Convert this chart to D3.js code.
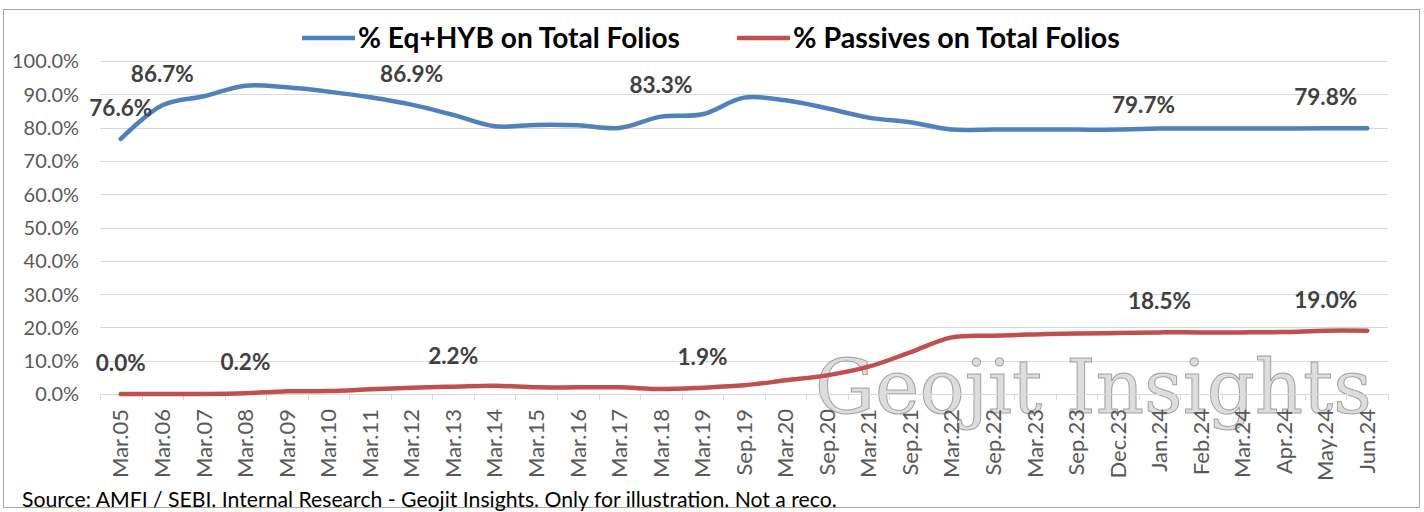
<!DOCTYPE html>
<html>
<head>
<meta charset="utf-8">
<script src="https://cdn.jsdelivr.net/npm/d3@7"></script>
<style>
  html, body { margin: 0; padding: 0; background: #fff; }
  svg { display: block; font-family: Lato, "Open Sans", sans-serif; }
</style>
</head>
<body>
<svg id="chart" width="1424" height="512"></svg>
<script>
const categories = ["Mar.05","Mar.06","Mar.07","Mar.08","Mar.09","Mar.10","Mar.11","Mar.12","Mar.13","Mar.14",
  "Mar.15","Mar.16","Mar.17","Mar.18","Mar.19","Sep.19","Mar.20","Sep.20","Mar.21","Sep.21",
  "Mar.22","Sep.22","Mar.23","Sep.23","Dec.23","Jan.24","Feb.24","Mar.24","Apr.24","May.24","Jun.24"];
const eqHyb = [76.6,86.7,89.4,92.6,92.1,90.8,89.1,86.9,83.8,80.4,
  80.8,80.7,79.9,83.3,84.0,89.0,88.2,85.8,83.0,81.6,
  79.4,79.4,79.4,79.4,79.4,79.7,79.7,79.7,79.7,79.8,79.8];
const passives = [0.0,0.0,0.0,0.2,0.8,0.9,1.4,1.9,2.2,2.5,
  2.0,2.0,2.0,1.5,1.9,2.6,4.1,5.6,8.2,12.5,
  17.0,17.5,17.9,18.2,18.3,18.5,18.5,18.5,18.6,19.0,19.0];
const eqLabelIdx = [0,1,7,13,25,29];
const pasLabelIdx = [0,3,8,14,25,29];
const yTicks = [0,10,20,30,40,50,60,70,80,90,100];
const seriesNames = ["% Eq+HYB on Total Folios", "% Passives on Total Folios"];
const sourceText = "Source: AMFI / SEBI. Internal Research - Geojit Insights. Only for illustration. Not a reco.";
const watermarkText = "Geojit Insights";

(function () {
const svg = d3.select("#chart");
const colors = ["#4F81BD", "#C0504D"];
const pLeft = 100, pRight = 1388, pTop = 61, pBottom = 394;

const x = d3.scaleBand().domain(categories).range([pLeft, pRight]).padding(0);
const y = d3.scaleLinear().domain([0, 100]).range([pBottom, pTop]);
const cx = c => x(c) + x.bandwidth() / 2;

function fitSize(sel, w) {
  const node = sel.node();
  const fs = parseFloat(sel.attr("font-size"));
  const cur = node.getComputedTextLength();
  return cur > 0 ? fs * w / cur : fs;
}
function fit(sel, w) { sel.attr("font-size", fitSize(sel, w).toFixed(2)); }

// chart border
svg.append("rect").attr("x", 3.5).attr("y", 9.5).attr("width", 1416).attr("height", 498)
  .attr("fill", "none").attr("stroke", "#a6a6a6").attr("stroke-width", 1);

// gridlines
svg.append("g").selectAll("line").data(yTicks.slice(1)).join("line")
  .attr("x1", pLeft).attr("x2", pRight)
  .attr("y1", d => Math.round(y(d)) + 0.5).attr("y2", d => Math.round(y(d)) + 0.5)
  .attr("stroke", "#d9d9d9").attr("stroke-width", 1);

// y labels
const yAxis = d3.axisLeft(y).tickValues(yTicks).tickSize(0).tickPadding(0)
  .tickFormat(d => d.toFixed(1) + "%");
const yg = svg.append("g").attr("transform", "translate(79,0)").call(yAxis);
yg.select(".domain").remove();
const yLabels = yg.selectAll("text").attr("font-size", 17).attr("fill", "#595959")
  .attr("font-family", "Lato, sans-serif").attr("dy", "0.35em");
const yfs = fitSize(yg.selectAll("text").filter(d => d === 100), 67);
yLabels.attr("font-size", yfs.toFixed(2));

// watermark
const wm = svg.append("text").attr("x", 815).attr("y", 413)
  .attr("font-family", "'DejaVu Serif', 'Liberation Serif', serif")
  .attr("font-size", 80)
  .attr("fill", "#d4d4d4").attr("fill-opacity", 0.8)
  .attr("stroke", "#8f8f8f").attr("stroke-width", 1).attr("stroke-opacity", 0.8)
  .text(watermarkText);
fit(wm, 557);

// x axis
const xAxis = d3.axisBottom(x).tickSize(0).tickPadding(0);
const xg = svg.append("g").attr("transform", `translate(0,${pBottom})`).call(xAxis);
xg.select(".domain").remove();
const xLabels = xg.selectAll("text")
  .attr("font-size", 16).attr("fill", "#595959").attr("font-family", "Lato, sans-serif")
  .attr("transform", "translate(0,15) rotate(-90)")
  .attr("text-anchor", "end").attr("x", 0).attr("y", 0).attr("dy", "0.35em");
const xfs = fitSize(xg.selectAll("text").filter(d => d === categories[0]), 69);
xLabels.attr("font-size", xfs.toFixed(2));
// axis line & boundary ticks
svg.append("line").attr("x1", pLeft).attr("x2", pRight).attr("y1", pBottom + 0.5).attr("y2", pBottom + 0.5)
  .attr("stroke", "#d9d9d9");
svg.append("g").selectAll("line").data(d3.range(categories.length + 1)).join("line")
  .attr("x1", i => Math.round(pLeft + i * x.bandwidth()) + 0.5)
  .attr("x2", i => Math.round(pLeft + i * x.bandwidth()) + 0.5)
  .attr("y1", pBottom).attr("y2", pBottom + 6)
  .attr("stroke", "#d9d9d9");

// lines
const line = d3.line().x((d, i) => cx(categories[i])).y(d => y(d)).curve(d3.curveCatmullRom.alpha(0.5));
[eqHyb, passives].forEach((vals, k) => {
  svg.append("path").datum(vals).attr("d", line)
    .attr("fill", "none").attr("stroke", colors[k]).attr("stroke-width", 4.5)
    .attr("stroke-linejoin", "round").attr("stroke-linecap", "round");
});

// data labels
const tweak = { "0-25": [-16, 8] };
let dlfs = null;
[[eqHyb, eqLabelIdx], [passives, pasLabelIdx]].forEach(([vals, idx], k) => {
  const g = svg.append("g");
  g.selectAll("text").data(idx).join("text")
    .attr("x", i => cx(categories[i]) + ((tweak[k + "-" + i] || [0, 0])[0]))
    .attr("y", i => y(vals[i]) - 31 + ((tweak[k + "-" + i] || [0, 0])[1]))
    .attr("dy", "0.35em").attr("text-anchor", "middle")
    .attr("font-size", 19).attr("font-weight", "bold").attr("fill", "#404040")
    .attr("font-family", "Lato, sans-serif")
    .text(i => vals[i].toFixed(1) + "%");
  if (dlfs === null) dlfs = fitSize(g.selectAll("text").filter(i => i === 1), 63);
  g.selectAll("text").attr("font-size", dlfs.toFixed(2));
});

// legend
const legendPos = [[302, 358], [737, 793]];
seriesNames.forEach((name, k) => {
  const [lx, tx] = legendPos[k];
  svg.append("line").attr("x1", lx).attr("x2", lx + 53).attr("y1", 38).attr("y2", 38)
    .attr("stroke", colors[k]).attr("stroke-width", 4.5);
  const t = svg.append("text").attr("x", tx).attr("y", 38).attr("dy", "0.35em")
    .attr("font-size", 23).attr("font-weight", "bold").attr("fill", "#000")
    .attr("font-family", "Lato, sans-serif").text(name);
  fit(t, k === 0 ? 322 : 327);
});

// source
const src = svg.append("text").attr("x", 22).attr("y", 500).attr("dy", "0.35em")
  .attr("font-size", 17).attr("fill", "#000").attr("font-family", "Lato, sans-serif")
  .text(sourceText);
fit(src, 815);
})();
</script>
</body>
</html>
